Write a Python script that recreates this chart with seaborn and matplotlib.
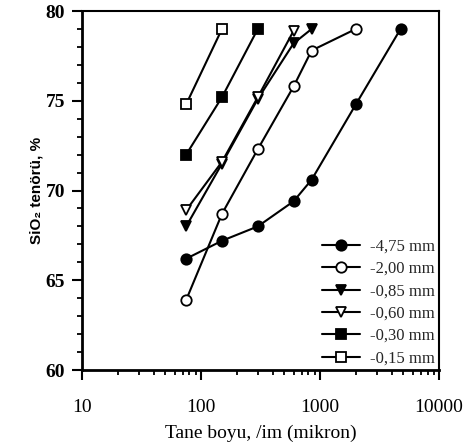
import numpy as np
import pandas as pd
import matplotlib
matplotlib.use("Agg")
import matplotlib.pyplot as plt
from matplotlib.ticker import LogLocator, NullFormatter, FixedLocator
import seaborn as sns

# Particle size (micron) and SiO2 grade (%) for each feed size fraction
size_475 = [75, 150, 300, 600, 850, 2000, 4750]
grade_475 = [66.2, 67.2, 68.0, 69.4, 70.6, 74.8, 79.0]

size_200 = [75, 150, 300, 600, 850, 2000]
grade_200 = [63.9, 68.7, 72.3, 75.8, 77.8, 79.0]

size_085 = [75, 150, 300, 600, 850]
grade_085 = [68.0, 71.5, 75.1, 78.2, 79.0]

size_060 = [75, 150, 300, 600]
grade_060 = [68.9, 71.6, 75.2, 78.9]

size_030 = [75, 150, 300]
grade_030 = [72.0, 75.2, 79.0]

size_015 = [75, 150]
grade_015 = [74.8, 79.0]

labels = ["-4,75 mm", "-2,00 mm", "-0,85 mm", "-0,60 mm", "-0,30 mm", "-0,15 mm"]
sizes = [size_475, size_200, size_085, size_060, size_030, size_015]
grades = [grade_475, grade_200, grade_085, grade_060, grade_030, grade_015]
markers = ["o", "o", "v", "v", "s", "s"]
faces = ["black", "white", "black", "white", "black", "white"]

sns.set_theme(style="white")
plt.rcParams["font.family"] = ["Liberation Serif", "DejaVu Serif"]

fig = plt.figure(figsize=(4.73, 4.46), dpi=100)
ax = fig.add_axes([0.1734, 0.1704, 0.7548, 0.8049])

for lab, xs, ys, mk, fc in zip(labels, sizes, grades, markers, faces):
    df = pd.DataFrame({"size": xs, "grade": ys})
    sns.lineplot(data=df, x="size", y="grade", ax=ax, color="black",
                 marker=mk, markersize=7.5, markerfacecolor=fc,
                 markeredgecolor="black", markeredgewidth=1.3,
                 linewidth=1.5, label=lab, sort=False)

ax.set_xscale("log")
ax.set_xlim(10, 10000)
ax.set_ylim(60, 80)
ax.xaxis.set_major_locator(FixedLocator([10, 100, 1000, 10000]))
ax.set_xticklabels(["10", "100", "1000", "10000"])
ax.xaxis.set_minor_locator(LogLocator(base=10, subs=np.arange(2, 10)))
ax.xaxis.set_minor_formatter(NullFormatter())
ax.set_yticks([60, 65, 70, 75, 80])
ax.set_yticks(np.arange(60, 81, 1), minor=True)

for side in ["left", "right", "top", "bottom"]:
    ax.spines[side].set_color("black")
    ax.spines[side].set_linewidth(1.5)
ax.spines["left"].set_linewidth(2.0)
ax.spines["bottom"].set_linewidth(2.0)

ax.tick_params(axis="both", which="major", direction="out", length=7,
               width=1.5, color="black", labelsize=14, labelcolor="black",
               bottom=True, left=True, top=False, right=False)
ax.tick_params(axis="x", which="major", pad=14)
ax.tick_params(axis="y", which="major", pad=5)
ax.tick_params(axis="both", which="minor", direction="out", length=3.5,
               width=1.3, color="black", bottom=True, left=True,
               top=False, right=False)
for t in ax.get_yticklabels():
    t.set_fontweight("bold")

ax.set_xlabel("Tane boyu, /im (mikron)", fontsize=14, color="black", labelpad=6)
ax.set_ylabel("SiO₂ tenörü, %", fontsize=11, fontweight="bold",
              color="black", family=["Liberation Sans", "DejaVu Sans"], labelpad=2)

ax.legend(loc="lower right", bbox_to_anchor=(0.99, 0.01), frameon=False,
          fontsize=12, handlelength=2.3, handletextpad=0.6, labelspacing=0.38,
          borderpad=0.0, borderaxespad=0.0)

fig.savefig("out.png", dpi=100)
